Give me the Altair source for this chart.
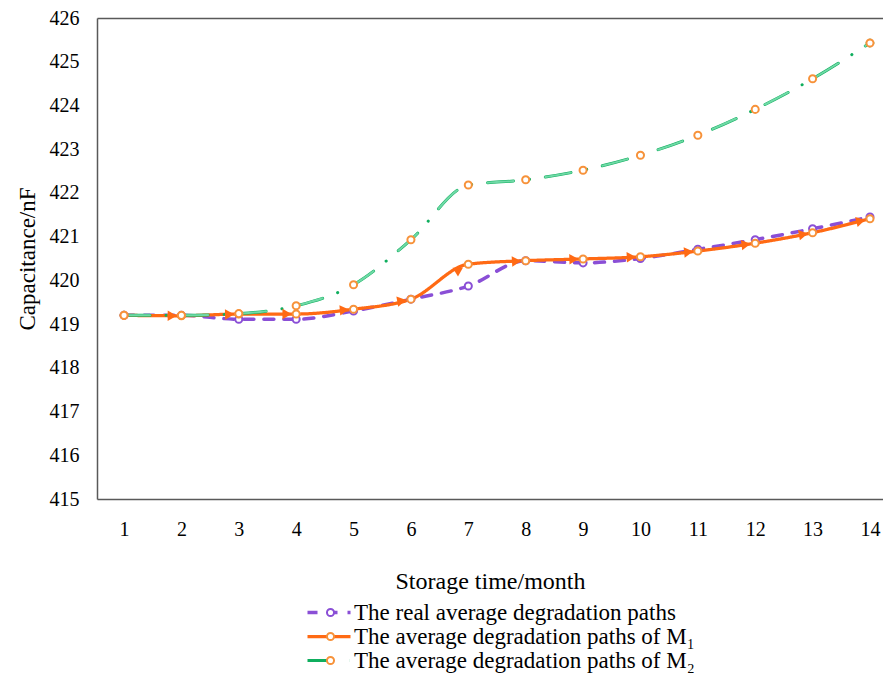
import math
import altair as alt
import pandas as pd

months = list(range(1, 15))
real = [419.20, 419.20, 419.11, 419.11, 419.30, 419.57, 419.87, 420.45, 420.40, 420.50, 420.71, 420.93, 421.18, 421.45]
m1 = [419.20, 419.19, 419.23, 419.23, 419.34, 419.57, 420.37, 420.45, 420.49, 420.54, 420.67, 420.85, 421.09, 421.41]
m2 = [419.20, 419.20, 419.24, 419.42, 419.90, 420.93, 422.18, 422.30, 422.52, 422.86, 423.32, 423.91, 424.61, 425.43]
y_ticks = list(range(415, 427))

S_REAL = "The real average degradation paths"
S_M1 = "The average degradation paths of M\u2081"
S_M2 = "The average degradation paths of M\u2082"
series = [S_REAL, S_M1, S_M2]
mk_series = [s + " " for s in series]  # keys of the marker legend (drawn over the line legend)

PURPLE = "#8A4FD6"
ORANGE = "#FF6A14"
GREEN = "#0FAE5E"
GREEN_IN = "#6FD9A6"
MARK_OR = "#F7923A"

FONT = "Liberation Serif"
W, H = 786, 481
XDOM = [0.529, 14.227]
YDOM = [415, 426]

rows = []
for s, k, vals in zip(series, mk_series, [real, m1, m2]):
    for m, v in zip(months, vals):
        rows.append({"month": m, "value": v, "series": s, "mk": k})
df = pd.DataFrame(rows)

# arrowheads for the M1 path, placed just before each point, rotated along the segment
pxx = W / (XDOM[1] - XDOM[0])
pxy = H / (YDOM[1] - YDOM[0])
arr = []
for i in range(1, len(months)):
    x0, x1 = months[i - 1], months[i]
    v0, v1 = m1[i - 1], m1[i]
    f = 0.84
    deg = math.degrees(math.atan2((v1 - v0) * pxy, (x1 - x0) * pxx))
    arr.append({"month": x0 + f * (x1 - x0), "value": v0 + f * (v1 - v0),
                "angle": (360 - deg) % 360})
arr_df = pd.DataFrame(arr)

x_scale = alt.Scale(domain=XDOM, nice=False, zero=False)
y_scale = alt.Scale(domain=YDOM, nice=False, zero=False)

x_enc = alt.X("month:Q", scale=x_scale,
              axis=alt.Axis(orient="bottom", values=months, title="Storage time/month", labelPadding=20,
                            titlePadding=30, titleFontSize=24, ticks=False, grid=False, format="d"))
y_enc = alt.Y("value:Q", scale=y_scale,
              axis=alt.Axis(values=y_ticks, title="Capacitance/nF", labelPadding=18,
                            titlePadding=10, ticks=False, grid=False, format="d"))

LEG_X, LEG_Y = 204, 583
leg = alt.Legend(title=None, orient="none", legendX=LEG_X, legendY=LEG_Y, symbolType="M-1,0H7.6",
                 symbolSize=100, labelFont=FONT, labelFontSize=23, labelLimit=0,
                 labelOffset=30, rowPadding=0, symbolStrokeWidth=3.5)
leg2 = alt.Legend(title=None, orient="none", legendX=LEG_X + 18, legendY=LEG_Y,
                  symbolSize=50, symbolFillColor="white", symbolStrokeWidth=2,
                  labelFont=FONT, labelFontSize=23, labelLimit=0, labelExpr="' '", rowPadding=0)

base = alt.Chart(df)

lines = base.mark_line(interpolate="monotone", strokeCap="round").encode(
    x=x_enc, y=y_enc,
    color=alt.Color("series:N", scale=alt.Scale(domain=series, range=[PURPLE, ORANGE, GREEN]), legend=leg),
    strokeDash=alt.StrokeDash("series:N", scale=alt.Scale(domain=series, range=[[10, 10], [1, 0], [26, 16, 0.1, 16]]), legend=leg),
    strokeWidth=alt.StrokeWidth("series:N", scale=alt.Scale(domain=series, range=[3.5, 3, 6]), legend=leg),
    order=alt.Order("series:N"),
)

inner = base.transform_filter(alt.datum.series == S_M2).mark_line(
    interpolate="monotone", strokeCap="round", color=GREEN_IN, strokeWidth=2, strokeDash=[26, 32.1]
).encode(x="month:Q", y="value:Q")

ends = base.transform_filter((alt.datum.series == S_M2) & ((alt.datum.month == 1) | (alt.datum.month == 14))).mark_point(
    shape="diamond", filled=True, color=GREEN, size=90, opacity=1
).encode(x="month:Q", y="value:Q")

arrows = alt.Chart(arr_df).mark_point(shape="triangle-right", filled=True, color=ORANGE, size=110, opacity=1).encode(
    x="month:Q", y="value:Q", angle=alt.Angle("angle:Q", scale=None)
)

markers = base.mark_point(filled=True, fill="white", size=50, strokeWidth=2, opacity=1).encode(
    x="month:Q", y="value:Q",
    stroke=alt.Stroke("mk:N", scale=alt.Scale(domain=mk_series, range=[PURPLE, MARK_OR, MARK_OR]), legend=leg2),
    shape=alt.Shape("mk:N", scale=alt.Scale(domain=mk_series, range=["circle", "circle", "circle"]), legend=leg2),
)

main = alt.layer(lines, inner, ends, arrows, markers)

top = alt.Chart(df).mark_point(opacity=0).encode(
    x=alt.X("month:Q", scale=x_scale,
            axis=alt.Axis(orient="top", labels=False, ticks=False, title=None, grid=False)),
    y=alt.Y("value:Q", scale=y_scale),
)

chart = alt.layer(main, top).resolve_axis(x="independent").properties(
    width=W, height=H,
    autosize=alt.AutoSizeParams(type="none"),
    padding={"left": 89, "top": 10, "right": 0, "bottom": 176},
).configure_view(stroke=None).configure_axis(
    labelFont=FONT, titleFont=FONT, labelFontSize=20, titleFontSize=23,
    labelColor="black", titleColor="black", titleFontWeight="normal",
    domainColor="#595959", domainWidth=1.5,
)

chart.save("out.html", embed_options={"renderer": "svg", "actions": False})
